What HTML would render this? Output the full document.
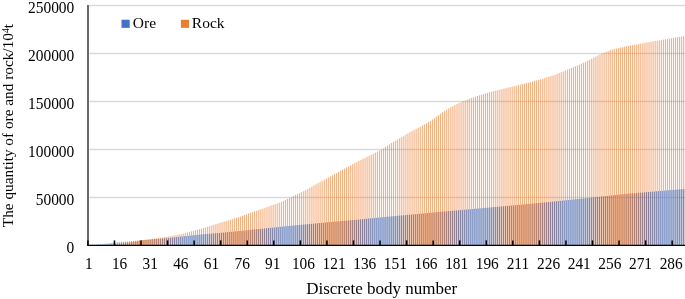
<!DOCTYPE html>
<html><head><meta charset="utf-8"><style>
html,body{margin:0;padding:0;background:#fff;width:685px;height:299px;overflow:hidden}
svg{display:block}
text{font-family:"Liberation Serif",serif;font-size:15.3px;fill:#000}
</style></head><body>
<svg width="685" height="299" viewBox="0 0 685 299">
<defs><g id="ob"><rect x="88.235" y="244.95" width="0.681" height="0.05"/><rect x="90.278" y="244.85" width="0.681" height="0.15"/><rect x="92.321" y="244.75" width="0.681" height="0.25"/><rect x="94.364" y="244.65" width="0.681" height="0.35"/><rect x="96.407" y="244.50" width="0.681" height="0.50"/><rect x="98.450" y="244.32" width="0.681" height="0.68"/><rect x="100.493" y="244.14" width="0.681" height="0.86"/><rect x="102.536" y="243.96" width="0.681" height="1.04"/><rect x="104.579" y="243.77" width="0.681" height="1.23"/><rect x="106.622" y="243.52" width="0.681" height="1.48"/><rect x="108.664" y="243.28" width="0.681" height="1.72"/><rect x="110.707" y="243.04" width="0.681" height="1.96"/><rect x="112.750" y="242.80" width="0.681" height="2.20"/><rect x="114.793" y="242.56" width="0.681" height="2.44"/><rect x="116.836" y="242.35" width="0.681" height="2.65"/><rect x="118.879" y="242.14" width="0.681" height="2.86"/><rect x="120.922" y="241.94" width="0.681" height="3.06"/><rect x="122.965" y="241.74" width="0.681" height="3.26"/><rect x="125.008" y="241.55" width="0.681" height="3.45"/><rect x="127.051" y="241.41" width="0.681" height="3.59"/><rect x="129.093" y="241.27" width="0.681" height="3.73"/><rect x="131.136" y="241.12" width="0.681" height="3.88"/><rect x="133.179" y="240.98" width="0.681" height="4.02"/><rect x="135.222" y="240.79" width="0.681" height="4.21"/><rect x="137.265" y="240.55" width="0.681" height="4.45"/><rect x="139.308" y="240.30" width="0.681" height="4.70"/><rect x="141.351" y="240.14" width="0.681" height="4.86"/><rect x="143.394" y="239.97" width="0.681" height="5.03"/><rect x="145.437" y="239.81" width="0.681" height="5.19"/><rect x="147.480" y="239.65" width="0.681" height="5.35"/><rect x="149.522" y="239.48" width="0.681" height="5.52"/><rect x="151.565" y="239.32" width="0.681" height="5.68"/><rect x="153.608" y="239.16" width="0.681" height="5.84"/><rect x="155.651" y="238.99" width="0.681" height="6.01"/><rect x="157.694" y="238.83" width="0.681" height="6.17"/><rect x="159.737" y="238.66" width="0.681" height="6.34"/><rect x="161.780" y="238.48" width="0.681" height="6.52"/><rect x="163.823" y="238.29" width="0.681" height="6.71"/><rect x="165.866" y="238.11" width="0.681" height="6.89"/><rect x="167.909" y="237.93" width="0.681" height="7.07"/><rect x="169.951" y="237.73" width="0.681" height="7.27"/><rect x="171.994" y="237.51" width="0.681" height="7.49"/><rect x="174.037" y="237.28" width="0.681" height="7.72"/><rect x="176.080" y="237.06" width="0.681" height="7.94"/><rect x="178.123" y="236.83" width="0.681" height="8.17"/><rect x="180.166" y="236.61" width="0.681" height="8.39"/><rect x="182.209" y="236.40" width="0.681" height="8.60"/><rect x="184.252" y="236.18" width="0.681" height="8.82"/><rect x="186.295" y="235.97" width="0.681" height="9.03"/><rect x="188.338" y="235.75" width="0.681" height="9.25"/><rect x="190.380" y="235.54" width="0.681" height="9.46"/><rect x="192.423" y="235.32" width="0.681" height="9.68"/><rect x="194.466" y="235.11" width="0.681" height="9.89"/><rect x="196.509" y="234.90" width="0.681" height="10.10"/><rect x="198.552" y="234.68" width="0.681" height="10.32"/><rect x="200.595" y="234.49" width="0.681" height="10.51"/><rect x="202.638" y="234.32" width="0.681" height="10.68"/><rect x="204.681" y="234.14" width="0.681" height="10.86"/><rect x="206.724" y="233.97" width="0.681" height="11.03"/><rect x="208.767" y="233.80" width="0.681" height="11.20"/><rect x="210.809" y="233.62" width="0.681" height="11.38"/><rect x="212.852" y="233.45" width="0.681" height="11.55"/><rect x="214.895" y="233.28" width="0.681" height="11.72"/><rect x="216.938" y="233.10" width="0.681" height="11.90"/><rect x="218.981" y="232.93" width="0.681" height="12.07"/><rect x="221.024" y="232.74" width="0.681" height="12.26"/><rect x="223.067" y="232.54" width="0.681" height="12.46"/><rect x="225.110" y="232.35" width="0.681" height="12.65"/><rect x="227.153" y="232.16" width="0.681" height="12.84"/><rect x="229.196" y="231.96" width="0.681" height="13.04"/><rect x="231.238" y="231.77" width="0.681" height="13.23"/><rect x="233.281" y="231.57" width="0.681" height="13.43"/><rect x="235.324" y="231.38" width="0.681" height="13.62"/><rect x="237.367" y="231.19" width="0.681" height="13.81"/><rect x="239.410" y="230.99" width="0.681" height="14.01"/><rect x="241.453" y="230.77" width="0.681" height="14.23"/><rect x="243.496" y="230.54" width="0.681" height="14.46"/><rect x="245.539" y="230.32" width="0.681" height="14.68"/><rect x="247.582" y="230.09" width="0.681" height="14.91"/><rect x="249.625" y="229.87" width="0.681" height="15.13"/><rect x="251.667" y="229.67" width="0.681" height="15.33"/><rect x="253.710" y="229.46" width="0.681" height="15.54"/><rect x="255.753" y="229.26" width="0.681" height="15.74"/><rect x="257.796" y="229.05" width="0.681" height="15.95"/><rect x="259.839" y="228.85" width="0.681" height="16.15"/><rect x="261.882" y="228.64" width="0.681" height="16.36"/><rect x="263.925" y="228.44" width="0.681" height="16.56"/><rect x="265.968" y="228.24" width="0.681" height="16.76"/><rect x="268.011" y="228.03" width="0.681" height="16.97"/><rect x="270.054" y="227.83" width="0.681" height="17.17"/><rect x="272.096" y="227.62" width="0.681" height="17.38"/><rect x="274.139" y="227.42" width="0.681" height="17.58"/><rect x="276.182" y="227.21" width="0.681" height="17.79"/><rect x="278.225" y="227.01" width="0.681" height="17.99"/><rect x="280.268" y="226.81" width="0.681" height="18.19"/><rect x="282.311" y="226.60" width="0.681" height="18.40"/><rect x="284.354" y="226.40" width="0.681" height="18.60"/><rect x="286.397" y="226.19" width="0.681" height="18.81"/><rect x="288.440" y="225.99" width="0.681" height="19.01"/><rect x="290.483" y="225.78" width="0.681" height="19.22"/><rect x="292.525" y="225.58" width="0.681" height="19.42"/><rect x="294.568" y="225.38" width="0.681" height="19.62"/><rect x="296.611" y="225.17" width="0.681" height="19.83"/><rect x="298.654" y="224.97" width="0.681" height="20.03"/><rect x="300.697" y="224.77" width="0.681" height="20.23"/><rect x="302.740" y="224.58" width="0.681" height="20.42"/><rect x="304.783" y="224.39" width="0.681" height="20.61"/><rect x="306.826" y="224.20" width="0.681" height="20.80"/><rect x="308.869" y="224.01" width="0.681" height="20.99"/><rect x="310.912" y="223.82" width="0.681" height="21.18"/><rect x="312.954" y="223.63" width="0.681" height="21.37"/><rect x="314.997" y="223.44" width="0.681" height="21.56"/><rect x="317.040" y="223.25" width="0.681" height="21.75"/><rect x="319.083" y="223.06" width="0.681" height="21.94"/><rect x="321.126" y="222.86" width="0.681" height="22.14"/><rect x="323.169" y="222.67" width="0.681" height="22.33"/><rect x="325.212" y="222.48" width="0.681" height="22.52"/><rect x="327.255" y="222.29" width="0.681" height="22.71"/><rect x="329.298" y="222.10" width="0.681" height="22.90"/><rect x="331.341" y="221.92" width="0.681" height="23.08"/><rect x="333.383" y="221.73" width="0.681" height="23.27"/><rect x="335.426" y="221.55" width="0.681" height="23.45"/><rect x="337.469" y="221.37" width="0.681" height="23.63"/><rect x="339.512" y="221.18" width="0.681" height="23.82"/><rect x="341.555" y="221.00" width="0.681" height="24.00"/><rect x="343.598" y="220.81" width="0.681" height="24.19"/><rect x="345.641" y="220.63" width="0.681" height="24.37"/><rect x="347.684" y="220.45" width="0.681" height="24.55"/><rect x="349.727" y="220.26" width="0.681" height="24.74"/><rect x="351.770" y="220.08" width="0.681" height="24.92"/><rect x="353.812" y="219.90" width="0.681" height="25.10"/><rect x="355.855" y="219.71" width="0.681" height="25.29"/><rect x="357.898" y="219.53" width="0.681" height="25.47"/><rect x="359.941" y="219.34" width="0.681" height="25.66"/><rect x="361.984" y="219.15" width="0.681" height="25.85"/><rect x="364.027" y="218.95" width="0.681" height="26.05"/><rect x="366.070" y="218.76" width="0.681" height="26.24"/><rect x="368.113" y="218.56" width="0.681" height="26.44"/><rect x="370.156" y="218.37" width="0.681" height="26.63"/><rect x="372.199" y="218.18" width="0.681" height="26.82"/><rect x="374.241" y="217.98" width="0.681" height="27.02"/><rect x="376.284" y="217.79" width="0.681" height="27.21"/><rect x="378.327" y="217.59" width="0.681" height="27.41"/><rect x="380.370" y="217.40" width="0.681" height="27.60"/><rect x="382.413" y="217.21" width="0.681" height="27.79"/><rect x="384.456" y="217.01" width="0.681" height="27.99"/><rect x="386.499" y="216.82" width="0.681" height="28.18"/><rect x="388.542" y="216.62" width="0.681" height="28.38"/><rect x="390.585" y="216.43" width="0.681" height="28.57"/><rect x="392.628" y="216.24" width="0.681" height="28.76"/><rect x="394.670" y="216.04" width="0.681" height="28.96"/><rect x="396.713" y="215.85" width="0.681" height="29.15"/><rect x="398.756" y="215.65" width="0.681" height="29.35"/><rect x="400.799" y="215.46" width="0.681" height="29.54"/><rect x="402.842" y="215.28" width="0.681" height="29.72"/><rect x="404.885" y="215.09" width="0.681" height="29.91"/><rect x="406.928" y="214.90" width="0.681" height="30.10"/><rect x="408.971" y="214.71" width="0.681" height="30.29"/><rect x="411.014" y="214.52" width="0.681" height="30.48"/><rect x="413.057" y="214.34" width="0.681" height="30.66"/><rect x="415.099" y="214.15" width="0.681" height="30.85"/><rect x="417.142" y="213.96" width="0.681" height="31.04"/><rect x="419.185" y="213.77" width="0.681" height="31.23"/><rect x="421.228" y="213.58" width="0.681" height="31.42"/><rect x="423.271" y="213.40" width="0.681" height="31.60"/><rect x="425.314" y="213.21" width="0.681" height="31.79"/><rect x="427.357" y="213.02" width="0.681" height="31.98"/><rect x="429.400" y="212.83" width="0.681" height="32.17"/><rect x="431.443" y="212.64" width="0.681" height="32.36"/><rect x="433.486" y="212.46" width="0.681" height="32.54"/><rect x="435.528" y="212.27" width="0.681" height="32.73"/><rect x="437.571" y="212.08" width="0.681" height="32.92"/><rect x="439.614" y="211.89" width="0.681" height="33.11"/><rect x="441.657" y="211.70" width="0.681" height="33.30"/><rect x="443.700" y="211.52" width="0.681" height="33.48"/><rect x="445.743" y="211.33" width="0.681" height="33.67"/><rect x="447.786" y="211.14" width="0.681" height="33.86"/><rect x="449.829" y="210.96" width="0.681" height="34.04"/><rect x="451.872" y="210.78" width="0.681" height="34.22"/><rect x="453.915" y="210.60" width="0.681" height="34.40"/><rect x="455.957" y="210.42" width="0.681" height="34.58"/><rect x="458.000" y="210.25" width="0.681" height="34.75"/><rect x="460.043" y="210.07" width="0.681" height="34.93"/><rect x="462.086" y="209.89" width="0.681" height="35.11"/><rect x="464.129" y="209.72" width="0.681" height="35.28"/><rect x="466.172" y="209.54" width="0.681" height="35.46"/><rect x="468.215" y="209.36" width="0.681" height="35.64"/><rect x="470.258" y="209.19" width="0.681" height="35.81"/><rect x="472.301" y="209.01" width="0.681" height="35.99"/><rect x="474.344" y="208.83" width="0.681" height="36.17"/><rect x="476.386" y="208.65" width="0.681" height="36.35"/><rect x="478.429" y="208.48" width="0.681" height="36.52"/><rect x="480.472" y="208.30" width="0.681" height="36.70"/><rect x="482.515" y="208.11" width="0.681" height="36.89"/><rect x="484.558" y="207.93" width="0.681" height="37.07"/><rect x="486.601" y="207.74" width="0.681" height="37.26"/><rect x="488.644" y="207.56" width="0.681" height="37.44"/><rect x="490.687" y="207.38" width="0.681" height="37.62"/><rect x="492.730" y="207.19" width="0.681" height="37.81"/><rect x="494.773" y="207.01" width="0.681" height="37.99"/><rect x="496.815" y="206.83" width="0.681" height="38.17"/><rect x="498.858" y="206.64" width="0.681" height="38.36"/><rect x="500.901" y="206.46" width="0.681" height="38.54"/><rect x="502.944" y="206.27" width="0.681" height="38.73"/><rect x="504.987" y="206.09" width="0.681" height="38.91"/><rect x="507.030" y="205.91" width="0.681" height="39.09"/><rect x="509.073" y="205.72" width="0.681" height="39.28"/><rect x="511.116" y="205.53" width="0.681" height="39.47"/><rect x="513.159" y="205.34" width="0.681" height="39.66"/><rect x="515.202" y="205.15" width="0.681" height="39.85"/><rect x="517.244" y="204.96" width="0.681" height="40.04"/><rect x="519.287" y="204.77" width="0.681" height="40.23"/><rect x="521.330" y="204.58" width="0.681" height="40.42"/><rect x="523.373" y="204.39" width="0.681" height="40.61"/><rect x="525.416" y="204.20" width="0.681" height="40.80"/><rect x="527.459" y="204.01" width="0.681" height="40.99"/><rect x="529.502" y="203.82" width="0.681" height="41.18"/><rect x="531.545" y="203.63" width="0.681" height="41.37"/><rect x="533.588" y="203.43" width="0.681" height="41.57"/><rect x="535.631" y="203.24" width="0.681" height="41.76"/><rect x="537.673" y="203.05" width="0.681" height="41.95"/><rect x="539.716" y="202.86" width="0.681" height="42.14"/><rect x="541.759" y="202.66" width="0.681" height="42.34"/><rect x="543.802" y="202.45" width="0.681" height="42.55"/><rect x="545.845" y="202.25" width="0.681" height="42.75"/><rect x="547.888" y="202.04" width="0.681" height="42.96"/><rect x="549.931" y="201.84" width="0.681" height="43.16"/><rect x="551.974" y="201.63" width="0.681" height="43.37"/><rect x="554.017" y="201.43" width="0.681" height="43.57"/><rect x="556.060" y="201.23" width="0.681" height="43.77"/><rect x="558.102" y="201.02" width="0.681" height="43.98"/><rect x="560.145" y="200.82" width="0.681" height="44.18"/><rect x="562.188" y="200.61" width="0.681" height="44.39"/><rect x="564.231" y="200.41" width="0.681" height="44.59"/><rect x="566.274" y="200.20" width="0.681" height="44.80"/><rect x="568.317" y="200.00" width="0.681" height="45.00"/><rect x="570.360" y="199.79" width="0.681" height="45.21"/><rect x="572.403" y="199.57" width="0.681" height="45.43"/><rect x="574.446" y="199.35" width="0.681" height="45.65"/><rect x="576.489" y="199.14" width="0.681" height="45.86"/><rect x="578.531" y="198.92" width="0.681" height="46.08"/><rect x="580.574" y="198.70" width="0.681" height="46.30"/><rect x="582.617" y="198.48" width="0.681" height="46.52"/><rect x="584.660" y="198.26" width="0.681" height="46.74"/><rect x="586.703" y="198.04" width="0.681" height="46.96"/><rect x="588.746" y="197.82" width="0.681" height="47.18"/><rect x="590.789" y="197.60" width="0.681" height="47.40"/><rect x="592.832" y="197.38" width="0.681" height="47.62"/><rect x="594.875" y="197.17" width="0.681" height="47.83"/><rect x="596.918" y="196.95" width="0.681" height="48.05"/><rect x="598.960" y="196.73" width="0.681" height="48.27"/><rect x="601.003" y="196.51" width="0.681" height="48.49"/><rect x="603.046" y="196.29" width="0.681" height="48.71"/><rect x="605.089" y="196.07" width="0.681" height="48.93"/><rect x="607.132" y="195.85" width="0.681" height="49.15"/><rect x="609.175" y="195.63" width="0.681" height="49.37"/><rect x="611.218" y="195.41" width="0.681" height="49.59"/><rect x="613.261" y="195.19" width="0.681" height="49.81"/><rect x="615.304" y="194.97" width="0.681" height="50.03"/><rect x="617.347" y="194.75" width="0.681" height="50.25"/><rect x="619.389" y="194.53" width="0.681" height="50.47"/><rect x="621.432" y="194.31" width="0.681" height="50.69"/><rect x="623.475" y="194.09" width="0.681" height="50.91"/><rect x="625.518" y="193.90" width="0.681" height="51.10"/><rect x="627.561" y="193.72" width="0.681" height="51.28"/><rect x="629.604" y="193.55" width="0.681" height="51.45"/><rect x="631.647" y="193.37" width="0.681" height="51.63"/><rect x="633.690" y="193.20" width="0.681" height="51.80"/><rect x="635.733" y="193.02" width="0.681" height="51.98"/><rect x="637.776" y="192.85" width="0.681" height="52.15"/><rect x="639.818" y="192.67" width="0.681" height="52.33"/><rect x="641.861" y="192.50" width="0.681" height="52.50"/><rect x="643.904" y="192.32" width="0.681" height="52.68"/><rect x="645.947" y="192.15" width="0.681" height="52.85"/><rect x="647.990" y="191.97" width="0.681" height="53.03"/><rect x="650.033" y="191.80" width="0.681" height="53.20"/><rect x="652.076" y="191.62" width="0.681" height="53.38"/><rect x="654.119" y="191.45" width="0.681" height="53.55"/><rect x="656.162" y="191.27" width="0.681" height="53.73"/><rect x="658.205" y="191.10" width="0.681" height="53.90"/><rect x="660.247" y="190.93" width="0.681" height="54.07"/><rect x="662.290" y="190.76" width="0.681" height="54.24"/><rect x="664.333" y="190.60" width="0.681" height="54.40"/><rect x="666.376" y="190.44" width="0.681" height="54.56"/><rect x="668.419" y="190.27" width="0.681" height="54.73"/><rect x="670.462" y="190.11" width="0.681" height="54.89"/><rect x="672.505" y="189.95" width="0.681" height="55.05"/><rect x="674.548" y="189.78" width="0.681" height="55.22"/><rect x="676.591" y="189.62" width="0.681" height="55.38"/><rect x="678.634" y="189.45" width="0.681" height="55.55"/><rect x="680.676" y="189.29" width="0.681" height="55.71"/><rect x="682.719" y="189.13" width="0.681" height="55.87"/><rect x="684.762" y="188.97" width="0.681" height="56.03"/></g><g id="rb"><rect x="88.916" y="245.00" width="0.681" height="0.00"/><rect x="90.959" y="245.00" width="0.681" height="0.00"/><rect x="93.002" y="245.00" width="0.681" height="0.00"/><rect x="95.045" y="245.00" width="0.681" height="0.00"/><rect x="97.088" y="245.00" width="0.681" height="0.00"/><rect x="99.131" y="245.00" width="0.681" height="0.00"/><rect x="101.174" y="244.94" width="0.681" height="0.06"/><rect x="103.217" y="244.84" width="0.681" height="0.16"/><rect x="105.260" y="244.74" width="0.681" height="0.26"/><rect x="107.303" y="244.63" width="0.681" height="0.37"/><rect x="109.345" y="244.53" width="0.681" height="0.47"/><rect x="111.388" y="244.34" width="0.681" height="0.66"/><rect x="113.431" y="244.10" width="0.681" height="0.90"/><rect x="115.474" y="243.86" width="0.681" height="1.14"/><rect x="117.517" y="243.67" width="0.681" height="1.33"/><rect x="119.560" y="243.48" width="0.681" height="1.52"/><rect x="121.603" y="243.30" width="0.681" height="1.70"/><rect x="123.646" y="243.12" width="0.681" height="1.88"/><rect x="125.689" y="242.90" width="0.681" height="2.10"/><rect x="127.732" y="242.62" width="0.681" height="2.38"/><rect x="129.774" y="242.33" width="0.681" height="2.67"/><rect x="131.817" y="242.05" width="0.681" height="2.95"/><rect x="133.860" y="241.76" width="0.681" height="3.24"/><rect x="135.903" y="241.37" width="0.681" height="3.63"/><rect x="137.946" y="240.83" width="0.681" height="4.17"/><rect x="139.989" y="240.30" width="0.681" height="4.70"/><rect x="142.032" y="240.08" width="0.681" height="4.92"/><rect x="144.075" y="239.85" width="0.681" height="5.15"/><rect x="146.118" y="239.63" width="0.681" height="5.37"/><rect x="148.161" y="239.40" width="0.681" height="5.60"/><rect x="150.203" y="239.17" width="0.681" height="5.83"/><rect x="152.246" y="238.86" width="0.681" height="6.14"/><rect x="154.289" y="238.56" width="0.681" height="6.44"/><rect x="156.332" y="238.25" width="0.681" height="6.75"/><rect x="158.375" y="237.94" width="0.681" height="7.06"/><rect x="160.418" y="237.64" width="0.681" height="7.36"/><rect x="162.461" y="237.33" width="0.681" height="7.67"/><rect x="164.504" y="237.02" width="0.681" height="7.98"/><rect x="166.547" y="236.72" width="0.681" height="8.28"/><rect x="168.590" y="236.41" width="0.681" height="8.59"/><rect x="170.632" y="236.07" width="0.681" height="8.93"/><rect x="172.675" y="235.66" width="0.681" height="9.34"/><rect x="174.718" y="235.26" width="0.681" height="9.74"/><rect x="176.761" y="234.85" width="0.681" height="10.15"/><rect x="178.804" y="234.44" width="0.681" height="10.56"/><rect x="180.847" y="233.98" width="0.681" height="11.02"/><rect x="182.890" y="233.45" width="0.681" height="11.55"/><rect x="184.933" y="232.92" width="0.681" height="12.08"/><rect x="186.976" y="232.39" width="0.681" height="12.61"/><rect x="189.019" y="231.86" width="0.681" height="13.14"/><rect x="191.061" y="231.32" width="0.681" height="13.68"/><rect x="193.104" y="230.79" width="0.681" height="14.21"/><rect x="195.147" y="230.26" width="0.681" height="14.74"/><rect x="197.190" y="229.73" width="0.681" height="15.27"/><rect x="199.233" y="229.20" width="0.681" height="15.80"/><rect x="201.276" y="228.60" width="0.681" height="16.40"/><rect x="203.319" y="227.97" width="0.681" height="17.03"/><rect x="205.362" y="227.34" width="0.681" height="17.66"/><rect x="207.405" y="226.70" width="0.681" height="18.30"/><rect x="209.448" y="226.07" width="0.681" height="18.93"/><rect x="211.490" y="225.43" width="0.681" height="19.57"/><rect x="213.533" y="224.79" width="0.681" height="20.21"/><rect x="215.576" y="224.15" width="0.681" height="20.85"/><rect x="217.619" y="223.51" width="0.681" height="21.49"/><rect x="219.662" y="222.87" width="0.681" height="22.13"/><rect x="221.705" y="222.23" width="0.681" height="22.77"/><rect x="223.748" y="221.59" width="0.681" height="23.41"/><rect x="225.791" y="220.96" width="0.681" height="24.04"/><rect x="227.834" y="220.33" width="0.681" height="24.67"/><rect x="229.877" y="219.70" width="0.681" height="25.30"/><rect x="231.919" y="219.08" width="0.681" height="25.92"/><rect x="233.962" y="218.45" width="0.681" height="26.55"/><rect x="236.005" y="217.83" width="0.681" height="27.17"/><rect x="238.048" y="217.20" width="0.681" height="27.80"/><rect x="240.091" y="216.57" width="0.681" height="28.43"/><rect x="242.134" y="215.82" width="0.681" height="29.18"/><rect x="244.177" y="215.07" width="0.681" height="29.93"/><rect x="246.220" y="214.32" width="0.681" height="30.68"/><rect x="248.263" y="213.57" width="0.681" height="31.43"/><rect x="250.306" y="212.82" width="0.681" height="32.18"/><rect x="252.348" y="212.07" width="0.681" height="32.93"/><rect x="254.391" y="211.32" width="0.681" height="33.68"/><rect x="256.434" y="210.61" width="0.681" height="34.39"/><rect x="258.477" y="209.92" width="0.681" height="35.08"/><rect x="260.520" y="209.22" width="0.681" height="35.78"/><rect x="262.563" y="208.53" width="0.681" height="36.47"/><rect x="264.606" y="207.83" width="0.681" height="37.17"/><rect x="266.649" y="207.11" width="0.681" height="37.89"/><rect x="268.692" y="206.37" width="0.681" height="38.63"/><rect x="270.735" y="205.64" width="0.681" height="39.36"/><rect x="272.777" y="204.90" width="0.681" height="40.10"/><rect x="274.820" y="204.16" width="0.681" height="40.84"/><rect x="276.863" y="203.43" width="0.681" height="41.57"/><rect x="278.906" y="202.69" width="0.681" height="42.31"/><rect x="280.949" y="201.83" width="0.681" height="43.17"/><rect x="282.992" y="200.83" width="0.681" height="44.17"/><rect x="285.035" y="199.83" width="0.681" height="45.17"/><rect x="287.078" y="198.83" width="0.681" height="46.17"/><rect x="289.121" y="197.83" width="0.681" height="47.17"/><rect x="291.164" y="196.86" width="0.681" height="48.14"/><rect x="293.206" y="195.90" width="0.681" height="49.10"/><rect x="295.249" y="194.95" width="0.681" height="50.05"/><rect x="297.292" y="194.00" width="0.681" height="51.00"/><rect x="299.335" y="193.04" width="0.681" height="51.96"/><rect x="301.378" y="192.09" width="0.681" height="52.91"/><rect x="303.421" y="191.14" width="0.681" height="53.86"/><rect x="305.464" y="190.13" width="0.681" height="54.87"/><rect x="307.507" y="188.96" width="0.681" height="56.04"/><rect x="309.550" y="187.79" width="0.681" height="57.21"/><rect x="311.593" y="186.62" width="0.681" height="58.38"/><rect x="313.635" y="185.45" width="0.681" height="59.55"/><rect x="315.678" y="184.28" width="0.681" height="60.72"/><rect x="317.721" y="183.11" width="0.681" height="61.89"/><rect x="319.764" y="181.94" width="0.681" height="63.06"/><rect x="321.807" y="180.81" width="0.681" height="64.19"/><rect x="323.850" y="179.70" width="0.681" height="65.30"/><rect x="325.893" y="178.58" width="0.681" height="66.42"/><rect x="327.936" y="177.46" width="0.681" height="67.54"/><rect x="329.979" y="176.35" width="0.681" height="68.65"/><rect x="332.022" y="175.23" width="0.681" height="69.77"/><rect x="334.064" y="174.11" width="0.681" height="70.89"/><rect x="336.107" y="172.99" width="0.681" height="72.01"/><rect x="338.150" y="171.88" width="0.681" height="73.12"/><rect x="340.193" y="170.76" width="0.681" height="74.24"/><rect x="342.236" y="169.64" width="0.681" height="75.36"/><rect x="344.279" y="168.53" width="0.681" height="76.47"/><rect x="346.322" y="167.41" width="0.681" height="77.59"/><rect x="348.365" y="166.29" width="0.681" height="78.71"/><rect x="350.408" y="165.19" width="0.681" height="79.81"/><rect x="352.451" y="164.13" width="0.681" height="80.87"/><rect x="354.493" y="163.06" width="0.681" height="81.94"/><rect x="356.536" y="162.00" width="0.681" height="83.00"/><rect x="358.579" y="160.94" width="0.681" height="84.06"/><rect x="360.622" y="159.88" width="0.681" height="85.12"/><rect x="362.665" y="158.81" width="0.681" height="86.19"/><rect x="364.708" y="157.75" width="0.681" height="87.25"/><rect x="366.751" y="156.76" width="0.681" height="88.24"/><rect x="368.794" y="155.78" width="0.681" height="89.22"/><rect x="370.837" y="154.76" width="0.681" height="90.24"/><rect x="372.880" y="153.69" width="0.681" height="91.31"/><rect x="374.922" y="152.63" width="0.681" height="92.37"/><rect x="376.965" y="151.56" width="0.681" height="93.44"/><rect x="379.008" y="150.49" width="0.681" height="94.51"/><rect x="381.051" y="149.42" width="0.681" height="95.58"/><rect x="383.094" y="148.34" width="0.681" height="96.66"/><rect x="385.137" y="147.00" width="0.681" height="98.00"/><rect x="387.180" y="145.65" width="0.681" height="99.35"/><rect x="389.223" y="144.31" width="0.681" height="100.69"/><rect x="391.266" y="143.06" width="0.681" height="101.94"/><rect x="393.309" y="141.86" width="0.681" height="103.14"/><rect x="395.351" y="140.67" width="0.681" height="104.33"/><rect x="397.394" y="139.47" width="0.681" height="105.53"/><rect x="399.437" y="138.27" width="0.681" height="106.73"/><rect x="401.480" y="137.07" width="0.681" height="107.93"/><rect x="403.523" y="135.87" width="0.681" height="109.13"/><rect x="405.566" y="134.66" width="0.681" height="110.34"/><rect x="407.609" y="133.43" width="0.681" height="111.57"/><rect x="409.652" y="132.21" width="0.681" height="112.79"/><rect x="411.695" y="131.08" width="0.681" height="113.92"/><rect x="413.738" y="129.98" width="0.681" height="115.02"/><rect x="415.780" y="128.88" width="0.681" height="116.12"/><rect x="417.823" y="127.78" width="0.681" height="117.22"/><rect x="419.866" y="126.67" width="0.681" height="118.33"/><rect x="421.909" y="125.53" width="0.681" height="119.47"/><rect x="423.952" y="124.39" width="0.681" height="120.61"/><rect x="425.995" y="123.24" width="0.681" height="121.76"/><rect x="428.038" y="122.10" width="0.681" height="122.90"/><rect x="430.081" y="120.94" width="0.681" height="124.06"/><rect x="432.124" y="119.47" width="0.681" height="125.53"/><rect x="434.167" y="118.00" width="0.681" height="127.00"/><rect x="436.209" y="116.53" width="0.681" height="128.47"/><rect x="438.252" y="115.06" width="0.681" height="129.94"/><rect x="440.295" y="113.61" width="0.681" height="131.39"/><rect x="442.338" y="112.30" width="0.681" height="132.70"/><rect x="444.381" y="111.00" width="0.681" height="134.00"/><rect x="446.424" y="109.69" width="0.681" height="135.31"/><rect x="448.467" y="108.38" width="0.681" height="136.62"/><rect x="450.510" y="107.15" width="0.681" height="137.85"/><rect x="452.553" y="106.12" width="0.681" height="138.88"/><rect x="454.596" y="105.10" width="0.681" height="139.90"/><rect x="456.638" y="104.08" width="0.681" height="140.92"/><rect x="458.681" y="103.06" width="0.681" height="141.94"/><rect x="460.724" y="102.10" width="0.681" height="142.90"/><rect x="462.767" y="101.27" width="0.681" height="143.73"/><rect x="464.810" y="100.43" width="0.681" height="144.57"/><rect x="466.853" y="99.59" width="0.681" height="145.41"/><rect x="468.896" y="98.75" width="0.681" height="146.25"/><rect x="470.939" y="97.98" width="0.681" height="147.02"/><rect x="472.982" y="97.29" width="0.681" height="147.71"/><rect x="475.025" y="96.59" width="0.681" height="148.41"/><rect x="477.067" y="95.97" width="0.681" height="149.03"/><rect x="479.110" y="95.34" width="0.681" height="149.66"/><rect x="481.153" y="94.71" width="0.681" height="150.29"/><rect x="483.196" y="94.09" width="0.681" height="150.91"/><rect x="485.239" y="93.46" width="0.681" height="151.54"/><rect x="487.282" y="92.83" width="0.681" height="152.17"/><rect x="489.325" y="92.21" width="0.681" height="152.79"/><rect x="491.368" y="91.67" width="0.681" height="153.33"/><rect x="493.411" y="91.18" width="0.681" height="153.82"/><rect x="495.454" y="90.69" width="0.681" height="154.31"/><rect x="497.496" y="90.20" width="0.681" height="154.80"/><rect x="499.539" y="89.71" width="0.681" height="155.29"/><rect x="501.582" y="89.19" width="0.681" height="155.81"/><rect x="503.625" y="88.66" width="0.681" height="156.34"/><rect x="505.668" y="88.13" width="0.681" height="156.87"/><rect x="507.711" y="87.60" width="0.681" height="157.40"/><rect x="509.754" y="87.06" width="0.681" height="157.94"/><rect x="511.797" y="86.57" width="0.681" height="158.43"/><rect x="513.840" y="86.08" width="0.681" height="158.92"/><rect x="515.883" y="85.59" width="0.681" height="159.41"/><rect x="517.925" y="85.10" width="0.681" height="159.90"/><rect x="519.968" y="84.61" width="0.681" height="160.39"/><rect x="522.011" y="84.08" width="0.681" height="160.92"/><rect x="524.054" y="83.55" width="0.681" height="161.45"/><rect x="526.097" y="83.01" width="0.681" height="161.99"/><rect x="528.140" y="82.48" width="0.681" height="162.52"/><rect x="530.183" y="81.95" width="0.681" height="163.05"/><rect x="532.226" y="81.42" width="0.681" height="163.58"/><rect x="534.269" y="80.89" width="0.681" height="164.11"/><rect x="536.312" y="80.36" width="0.681" height="164.64"/><rect x="538.354" y="79.83" width="0.681" height="165.17"/><rect x="540.397" y="79.27" width="0.681" height="165.73"/><rect x="542.440" y="78.62" width="0.681" height="166.38"/><rect x="544.483" y="77.97" width="0.681" height="167.03"/><rect x="546.526" y="77.31" width="0.681" height="167.69"/><rect x="548.569" y="76.66" width="0.681" height="168.34"/><rect x="550.612" y="76.00" width="0.681" height="169.00"/><rect x="552.655" y="75.35" width="0.681" height="169.65"/><rect x="554.698" y="74.70" width="0.681" height="170.30"/><rect x="556.741" y="73.88" width="0.681" height="171.12"/><rect x="558.783" y="73.04" width="0.681" height="171.96"/><rect x="560.826" y="72.19" width="0.681" height="172.81"/><rect x="562.869" y="71.35" width="0.681" height="173.65"/><rect x="564.912" y="70.50" width="0.681" height="174.50"/><rect x="566.955" y="69.66" width="0.681" height="175.34"/><rect x="568.998" y="68.81" width="0.681" height="176.19"/><rect x="571.041" y="67.96" width="0.681" height="177.04"/><rect x="573.084" y="67.10" width="0.681" height="177.90"/><rect x="575.127" y="66.25" width="0.681" height="178.75"/><rect x="577.170" y="65.39" width="0.681" height="179.61"/><rect x="579.212" y="64.53" width="0.681" height="180.47"/><rect x="581.255" y="63.65" width="0.681" height="181.35"/><rect x="583.298" y="62.75" width="0.681" height="182.25"/><rect x="585.341" y="61.82" width="0.681" height="183.18"/><rect x="587.384" y="60.76" width="0.681" height="184.24"/><rect x="589.427" y="59.70" width="0.681" height="185.30"/><rect x="591.470" y="58.64" width="0.681" height="186.36"/><rect x="593.513" y="57.57" width="0.681" height="187.43"/><rect x="595.556" y="56.51" width="0.681" height="188.49"/><rect x="597.599" y="55.45" width="0.681" height="189.55"/><rect x="599.641" y="54.39" width="0.681" height="190.61"/><rect x="601.684" y="53.59" width="0.681" height="191.41"/><rect x="603.727" y="52.86" width="0.681" height="192.14"/><rect x="605.770" y="52.03" width="0.681" height="192.97"/><rect x="607.813" y="51.05" width="0.681" height="193.95"/><rect x="609.856" y="50.07" width="0.681" height="194.93"/><rect x="611.899" y="49.54" width="0.681" height="195.46"/><rect x="613.942" y="49.05" width="0.681" height="195.95"/><rect x="615.985" y="48.56" width="0.681" height="196.44"/><rect x="618.028" y="48.07" width="0.681" height="196.93"/><rect x="620.070" y="47.59" width="0.681" height="197.41"/><rect x="622.113" y="47.16" width="0.681" height="197.84"/><rect x="624.156" y="46.73" width="0.681" height="198.27"/><rect x="626.199" y="46.30" width="0.681" height="198.70"/><rect x="628.242" y="45.87" width="0.681" height="199.13"/><rect x="630.285" y="45.45" width="0.681" height="199.55"/><rect x="632.328" y="45.08" width="0.681" height="199.92"/><rect x="634.371" y="44.71" width="0.681" height="200.29"/><rect x="636.414" y="44.35" width="0.681" height="200.65"/><rect x="638.457" y="43.98" width="0.681" height="201.02"/><rect x="640.499" y="43.61" width="0.681" height="201.39"/><rect x="642.542" y="43.24" width="0.681" height="201.76"/><rect x="644.585" y="42.87" width="0.681" height="202.13"/><rect x="646.628" y="42.51" width="0.681" height="202.49"/><rect x="648.671" y="42.14" width="0.681" height="202.86"/><rect x="650.714" y="41.78" width="0.681" height="203.22"/><rect x="652.757" y="41.43" width="0.681" height="203.57"/><rect x="654.800" y="41.08" width="0.681" height="203.92"/><rect x="656.843" y="40.74" width="0.681" height="204.26"/><rect x="658.886" y="40.39" width="0.681" height="204.61"/><rect x="660.928" y="40.03" width="0.681" height="204.97"/><rect x="662.971" y="39.67" width="0.681" height="205.33"/><rect x="665.014" y="39.30" width="0.681" height="205.70"/><rect x="667.057" y="38.93" width="0.681" height="206.07"/><rect x="669.100" y="38.56" width="0.681" height="206.44"/><rect x="671.143" y="38.20" width="0.681" height="206.80"/><rect x="673.186" y="37.85" width="0.681" height="207.15"/><rect x="675.229" y="37.49" width="0.681" height="207.51"/><rect x="677.272" y="37.14" width="0.681" height="207.86"/><rect x="679.315" y="36.79" width="0.681" height="208.21"/><rect x="681.357" y="36.43" width="0.681" height="208.57"/><rect x="683.400" y="36.08" width="0.681" height="208.92"/><rect x="685.443" y="35.73" width="0.681" height="209.27"/></g>
<mask id="gm" maskUnits="userSpaceOnUse" x="80" y="0" width="620" height="252"><rect x="80" y="0" width="620" height="252" fill="#fff"/><use href="#ob" fill="#000"/><use href="#rb" fill="#000"/></mask>
<filter id="inv" filterUnits="userSpaceOnUse" x="80" y="0" width="620" height="252" color-interpolation-filters="sRGB"><feColorMatrix type="matrix" values="-1 0 0 0 1  0 -1 0 0 1  0 0 -1 0 1  0 0 0 1 0"/><feConvolveMatrix order="3 1" kernelMatrix="0.05 0.900 0.05" divisor="1" edgeMode="duplicate"/></filter></defs>
<rect width="685" height="299" fill="#fff"/>
<g filter="url(#inv)">
<rect x="87" y="0" width="603" height="246" fill="#000"/>
<g style="isolation:isolate"><use href="#ob" fill="#BB8D3B" style="mix-blend-mode:plus-lighter"/><use href="#rb" fill="#1282CE" style="mix-blend-mode:plus-lighter"/><g mask="url(#gm)" style="mix-blend-mode:plus-lighter"><line x1="89" y1="5.5" x2="685" y2="5.5" stroke="#252525" stroke-width="1.3"/><line x1="89" y1="53.5" x2="685" y2="53.5" stroke="#252525" stroke-width="1.3"/><line x1="89" y1="101.5" x2="685" y2="101.5" stroke="#252525" stroke-width="1.3"/><line x1="89" y1="149.5" x2="685" y2="149.5" stroke="#252525" stroke-width="1.3"/><line x1="89" y1="197.5" x2="685" y2="197.5" stroke="#252525" stroke-width="1.3"/></g></g>
</g>
<line x1="88" y1="5" x2="88" y2="245" stroke="#6a6a6a" stroke-width="2"/>
<path d="M87.2 245.33 H685" fill="none" stroke="#000" stroke-width="1.35"/>
<line x1="87.89" y1="240.4" x2="87.89" y2="245.5" stroke="#000" stroke-width="1.5"/><line x1="114.45" y1="240.4" x2="114.45" y2="245.5" stroke="#000" stroke-width="1.5"/><line x1="141.01" y1="240.4" x2="141.01" y2="245.5" stroke="#000" stroke-width="1.5"/><line x1="167.57" y1="240.4" x2="167.57" y2="245.5" stroke="#000" stroke-width="1.5"/><line x1="194.13" y1="240.4" x2="194.13" y2="245.5" stroke="#000" stroke-width="1.5"/><line x1="220.68" y1="240.4" x2="220.68" y2="245.5" stroke="#000" stroke-width="1.5"/><line x1="247.24" y1="240.4" x2="247.24" y2="245.5" stroke="#000" stroke-width="1.5"/><line x1="273.80" y1="240.4" x2="273.80" y2="245.5" stroke="#000" stroke-width="1.5"/><line x1="300.36" y1="240.4" x2="300.36" y2="245.5" stroke="#000" stroke-width="1.5"/><line x1="326.91" y1="240.4" x2="326.91" y2="245.5" stroke="#000" stroke-width="1.5"/><line x1="353.47" y1="240.4" x2="353.47" y2="245.5" stroke="#000" stroke-width="1.5"/><line x1="380.03" y1="240.4" x2="380.03" y2="245.5" stroke="#000" stroke-width="1.5"/><line x1="406.59" y1="240.4" x2="406.59" y2="245.5" stroke="#000" stroke-width="1.5"/><line x1="433.15" y1="240.4" x2="433.15" y2="245.5" stroke="#000" stroke-width="1.5"/><line x1="459.70" y1="240.4" x2="459.70" y2="245.5" stroke="#000" stroke-width="1.5"/><line x1="486.26" y1="240.4" x2="486.26" y2="245.5" stroke="#000" stroke-width="1.5"/><line x1="512.82" y1="240.4" x2="512.82" y2="245.5" stroke="#000" stroke-width="1.5"/><line x1="539.38" y1="240.4" x2="539.38" y2="245.5" stroke="#000" stroke-width="1.5"/><line x1="565.93" y1="240.4" x2="565.93" y2="245.5" stroke="#000" stroke-width="1.5"/><line x1="592.49" y1="240.4" x2="592.49" y2="245.5" stroke="#000" stroke-width="1.5"/><line x1="619.05" y1="240.4" x2="619.05" y2="245.5" stroke="#000" stroke-width="1.5"/><line x1="645.61" y1="240.4" x2="645.61" y2="245.5" stroke="#000" stroke-width="1.5"/><line x1="672.16" y1="240.4" x2="672.16" y2="245.5" stroke="#000" stroke-width="1.5"/>
<g style="filter:grayscale(1)"><text transform="translate(74.3,13.00) scale(0.965,1)" text-anchor="end" style="font-size:16px">250000</text><text transform="translate(74.3,60.95) scale(0.965,1)" text-anchor="end" style="font-size:16px">200000</text><text transform="translate(74.3,108.90) scale(0.965,1)" text-anchor="end" style="font-size:16px">150000</text><text transform="translate(74.3,156.85) scale(0.965,1)" text-anchor="end" style="font-size:16px">100000</text><text transform="translate(74.3,204.80) scale(0.965,1)" text-anchor="end" style="font-size:16px">50000</text><text transform="translate(74.3,252.75) scale(0.965,1)" text-anchor="end" style="font-size:16px">0</text>
<text transform="translate(88.92,268.6) scale(0.96,1)" text-anchor="middle" style="font-size:16px">1</text><text transform="translate(119.56,268.6) scale(0.96,1)" text-anchor="middle" style="font-size:16px">16</text><text transform="translate(150.20,268.6) scale(0.96,1)" text-anchor="middle" style="font-size:16px">31</text><text transform="translate(180.85,268.6) scale(0.96,1)" text-anchor="middle" style="font-size:16px">46</text><text transform="translate(211.49,268.6) scale(0.96,1)" text-anchor="middle" style="font-size:16px">61</text><text transform="translate(242.13,268.6) scale(0.96,1)" text-anchor="middle" style="font-size:16px">76</text><text transform="translate(272.78,268.6) scale(0.96,1)" text-anchor="middle" style="font-size:16px">91</text><text transform="translate(303.42,268.6) scale(0.96,1)" text-anchor="middle" style="font-size:16px">106</text><text transform="translate(334.06,268.6) scale(0.96,1)" text-anchor="middle" style="font-size:16px">121</text><text transform="translate(364.71,268.6) scale(0.96,1)" text-anchor="middle" style="font-size:16px">136</text><text transform="translate(395.35,268.6) scale(0.96,1)" text-anchor="middle" style="font-size:16px">151</text><text transform="translate(425.99,268.6) scale(0.96,1)" text-anchor="middle" style="font-size:16px">166</text><text transform="translate(456.64,268.6) scale(0.96,1)" text-anchor="middle" style="font-size:16px">181</text><text transform="translate(487.28,268.6) scale(0.96,1)" text-anchor="middle" style="font-size:16px">196</text><text transform="translate(517.93,268.6) scale(0.96,1)" text-anchor="middle" style="font-size:16px">211</text><text transform="translate(548.57,268.6) scale(0.96,1)" text-anchor="middle" style="font-size:16px">226</text><text transform="translate(579.21,268.6) scale(0.96,1)" text-anchor="middle" style="font-size:16px">241</text><text transform="translate(609.86,268.6) scale(0.96,1)" text-anchor="middle" style="font-size:16px">256</text><text transform="translate(640.50,268.6) scale(0.96,1)" text-anchor="middle" style="font-size:16px">271</text><text transform="translate(671.14,268.6) scale(0.96,1)" text-anchor="middle" style="font-size:16px">286</text>
<text x="381.7" y="294" text-anchor="middle" style="font-size:17px">Discrete body number</text>
<text transform="translate(13,125.65) rotate(-90)" text-anchor="middle">The quantity of ore and rock/10<tspan style="font-size:9.5px" dy="-4.3">4</tspan><tspan dy="4.3">t</tspan></text>
<text x="132.8" y="27.6" style="font-size:15.5px">Ore</text>
<text x="191.8" y="27.6" style="font-size:15.5px">Rock</text></g>
<rect x="121.5" y="19.75" width="8.2" height="8.1" fill="#4472C4"/>
<rect x="180.9" y="19.75" width="8.1" height="8.1" fill="#ED7D31"/>
</svg>
</body></html>
